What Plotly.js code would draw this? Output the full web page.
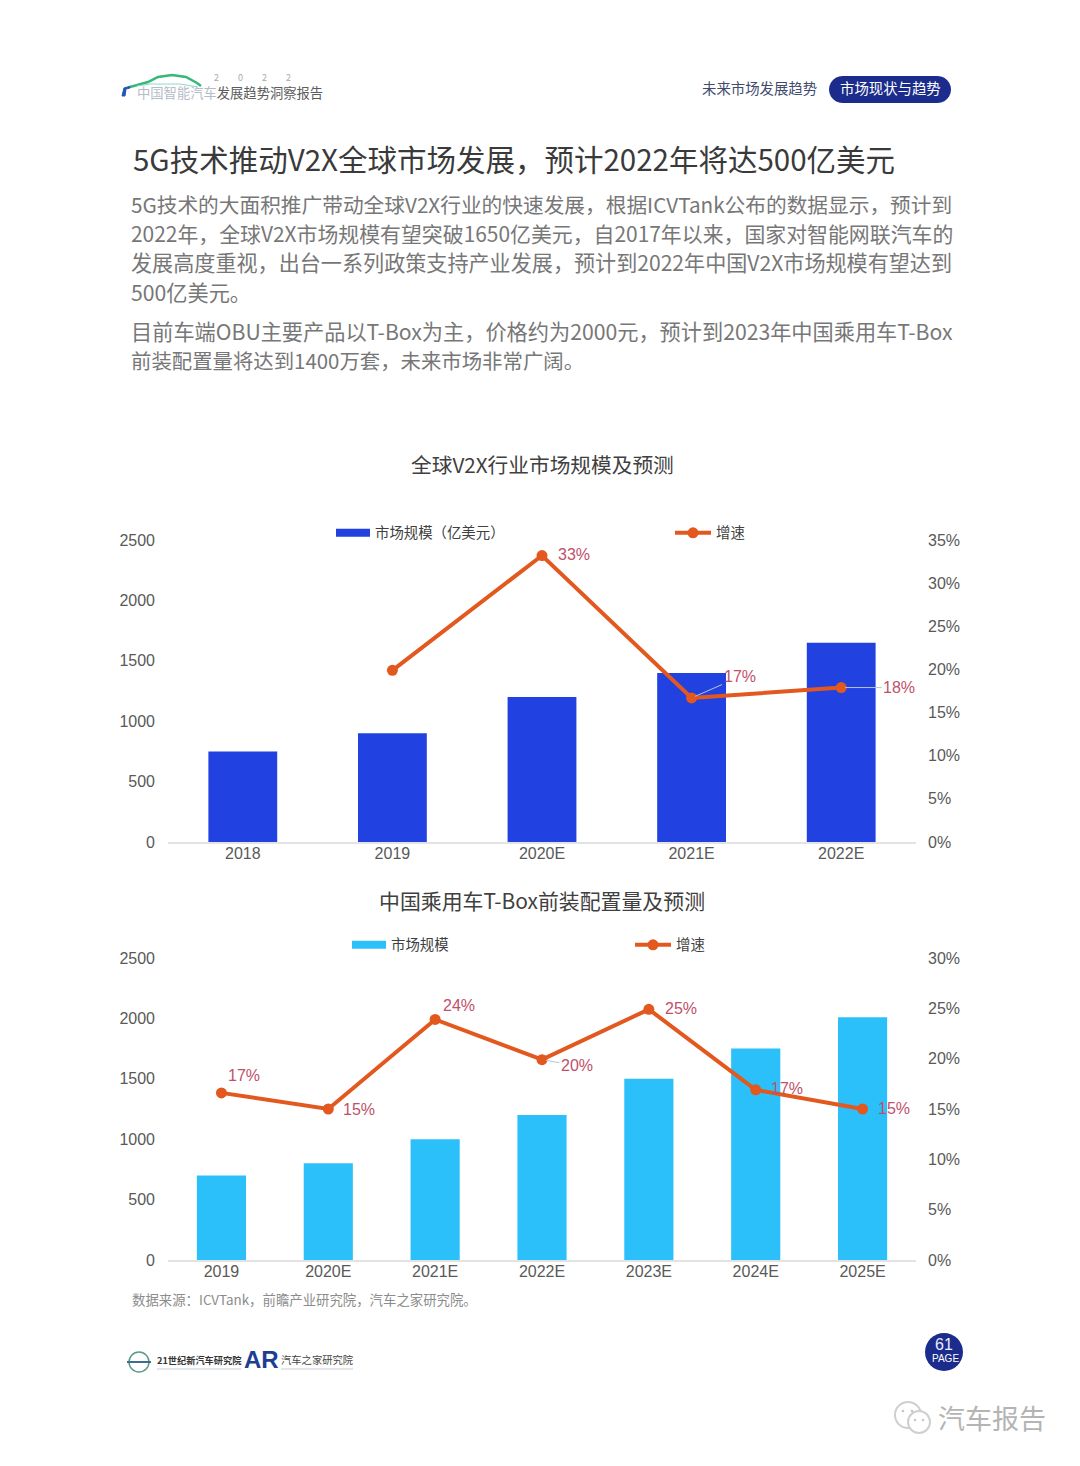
<!DOCTYPE html>
<html><head><meta charset="utf-8">
<script src="https://cdn.plot.ly/plotly-3.0.1.min.js"></script>
<style>html,body{margin:0;padding:0;background:#fff}#c{width:1080px;height:1466px}</style>
</head><body><div id="c"></div>
<script>
// ---------- chart data ----------
const cats1 = ['2018','2019','2020E','2021E','2022E'];
const size1 = [750,900,1200,1400,1650];
const growth1 = [null,19.9,33.2,16.7,17.9];
const growthLabels1 = ['','20%','33%','17%','18%'];
const cats2 = ['2019','2020E','2021E','2022E','2023E','2024E','2025E'];
const size2 = [700,800,1000,1200,1500,1750,2010];
const growth2 = [16.6,15,23.9,19.9,24.9,16.9,15];
const growthLabels2 = ['17%','15%','24%','20%','25%','17%','15%'];
const sizeName1 = '市场规模\uFF08亿美元\uFF09';
const sizeName2 = '市场规模';
const growthName = '增速';
const title1 = '全球V2X行业市场规模及预测';
const title2 = '中国乘用车T-Box前装配置量及预测';
const pageTitle = '5G技术推动V2X全球市场发展\uFF0C预计2022年将达500亿美元';
const bodyLines = [
 '5G技术的大面积推广带动全球V2X行业的快速发展\uFF0C根据ICVTank公布的数据显示\uFF0C预计到',
 '2022年\uFF0C全球V2X市场规模有望突破1650亿美元\uFF0C自2017年以来\uFF0C国家对智能网联汽车的',
 '发展高度重视\uFF0C出台一系列政策支持产业发展\uFF0C预计到2022年中国V2X市场规模有望达到',
 '500亿美元。',
 '目前车端OBU主要产品以T-Box为主\uFF0C价格约为2000元\uFF0C预计到2023年中国乘用车T-Box',
 '前装配置量将达到1400万套\uFF0C未来市场非常广阔。'];
const sourceNote = '数据来源\uFF1AICVTank\uFF0C前瞻产业研究院\uFF0C汽车之家研究院。';

// ---------- helpers ----------
const W=1080,H=1466;
const fx=x=>x/W, fy=y=>1-y/H;
const CJK='"Noto Sans CJK SC","Noto Sans",sans-serif';
const LAT='"Liberation Sans",Arial,sans-serif';
const BLUE='#2141e0',CYAN='#2cc0fb',ORANGE='#e2581e',NAVY='#1c2c8c',LABEL='#c0506a',TICK='#595959';

function txt(x,y,text,size,color,extra){
  const e=extra||{};
  const px=(e.xanchor==='center')?x:x-2;
  return Object.assign({xref:'paper',yref:'paper',x:fx(px),y:fy(y-1),text,showarrow:false,
    xanchor:'left',yanchor:'middle',align:'left',font:{family:CJK,size,color}},e);
}
function path(pts,color,width,fill){
  const d=pts.map((p,i)=>(i?'L':'M')+fx(p[0]).toFixed(5)+','+fy(p[1]).toFixed(5)).join(' ')+(fill?' Z':'');
  return {type:'path',xref:'paper',yref:'paper',path:d,line:{color:color,width:width},fillcolor:fill||'rgba(0,0,0,0)'};
}
function circle(cx,cy,r,fill,line,lw){return {type:'circle',xref:'paper',yref:'paper',x0:fx(cx-r),x1:fx(cx+r),y0:fy(cy+r),y1:fy(cy-r),fillcolor:fill,line:{color:line||fill,width:lw||0}};}
function lab(xr,yr,cat,val,text,dx,dy){
  return {xref:xr,yref:yr,x:cat,y:val,text,showarrow:false,xshift:dx,yshift:dy,font:{family:LAT,size:16,color:LABEL}};
}
function leader(xr,yr,cat,val,text,ax,ay){
  return {xref:xr,yref:yr,x:cat,y:val,text,showarrow:true,arrowhead:0,arrowwidth:1,arrowcolor:'#b9c4dc',ax,ay,standoff:4,font:{family:LAT,size:16,color:LABEL}};
}

// ---------- traces ----------
const barW=0.46;
const traces=[
 {type:'bar',x:cats1,y:size1,name:sizeName1,xaxis:'x',yaxis:'y',width:barW,marker:{color:BLUE},legend:'legend'},
 {type:'scatter',mode:'lines+markers',x:cats1,y:growth1,name:growthName,xaxis:'x',yaxis:'y2',line:{color:ORANGE,width:4},marker:{color:ORANGE,size:11},legend:'legend2'},
 {type:'bar',x:cats2,y:size2,name:sizeName2,xaxis:'x2',yaxis:'y3',width:barW,marker:{color:CYAN},legend:'legend3'},
 {type:'scatter',mode:'lines+markers',x:cats2,y:growth2,name:growthName,xaxis:'x2',yaxis:'y4',line:{color:ORANGE,width:4},marker:{color:ORANGE,size:11},legend:'legend4'}
];

// ---------- axes ----------
const tf={family:LAT,size:16,color:TICK};
const dom=[fx(168),fx(916)];
function xa(anchor,n){return {domain:dom,anchor,type:'category',range:[-0.5,n-0.5],showgrid:false,zeroline:false,showline:true,linecolor:'#e3e3e3',linewidth:2,ticks:'',tickfont:tf,ticklabelstandoff:-4,fixedrange:true};}
function yl(top,bot){return {domain:[fy(bot),fy(top)],range:[0,2500],tick0:0,dtick:500,showgrid:false,zeroline:false,showline:false,ticks:'',tickfont:tf,ticklabelstandoff:12,fixedrange:true};}
function yr(over,anchor,maxv){return {overlaying:over,anchor,side:'right',range:[0,maxv],tick0:0,dtick:5,ticksuffix:'%',showgrid:false,zeroline:false,showline:false,ticks:'',tickfont:tf,ticklabelstandoff:11,fixedrange:true};}

// ---------- page furniture ----------
function pill(x0,x1,y0,y1){
  const r=(y1-y0)/2,pts=[];
  for(let a=90;a<=270;a+=15)pts.push([x0+r+r*Math.cos(a*Math.PI/180),(y0+y1)/2-r*Math.sin(a*Math.PI/180)]);
  for(let a=270;a<=450;a+=15)pts.push([x1-r+r*Math.cos(a*Math.PI/180),(y0+y1)/2-r*Math.sin(a*Math.PI/180)]);
  return path(pts,NAVY,0,NAVY);
}
const shapes=[
 pill(829,951,76,103),
 circle(944,1352,19,NAVY),
 // header car mark
 path([[122,96],[124,88],[131,86],[130,88],[126,89],[125,96]],'#1f56b5',1,'#1f56b5'),
 path([[130,87],[148,82],[158,77],[172,75],[186,77],[197,83],[201,86]],'#36b87a',2.5),
 path([[137,86],[150,84],[180,84],[198,87]],'#8ed8c8',1),
 // footer marks
 circle(139,1362,10,'#ffffff','#5b9a87',1.5),
 path([[127,1362],[151,1362]],'#3a6f8f',2),
 path([[157,1369],[241,1369]],'#c8ccd6',1),
 path([[281,1369],[353,1369]],'#c8ccd6',1),
 // wechat watermark
 circle(908,1415,13,'#ffffff','#cfcfcf',2),
 circle(919,1422,11,'#ffffff','#cfcfcf',2),
 circle(903,1411,1.3,'#c4c4c4'),circle(912,1411,1.3,'#c4c4c4'),
 circle(915,1420,1.2,'#c4c4c4'),circle(923,1420,1.2,'#c4c4c4'),
];

const bodySizes=[20.7,20.9,21.1,21.2,21.2,20.4];
const bodyY=[205,234,263,292,332,361];
const annotations=[
 txt(137,93,'<span style="color:#b4bcc8">中国智能汽车</span><span style="color:#5c5c5c">发展趋势洞察报告</span>',13.3,'#5c5c5c'),
 txt(214,79,'2',9,'#a8a8a8'),txt(238,79,'0',9,'#a8a8a8'),txt(262,79,'2',9,'#a8a8a8'),txt(286,79,'2',9,'#a8a8a8'),
 txt(702,88,'未来市场发展趋势',14.4,'#3f4c6e'),
 txt(890,88,'市场现状与趋势',14.4,'#ffffff',{xanchor:'center'}),
 txt(133,159,pageTitle,29.5,'#3a3a3a'),
 txt(542,465,title1,20.7,'#404040',{xanchor:'center'}),
 txt(542,901,title2,20.9,'#404040',{xanchor:'center'}),
 txt(132,1300,sourceNote,13.4,'#8c8c8c'),
 txt(157,1361,'<b>21世纪新汽车研究院</b>',9.2,'#333333'),
 txt(244,1360,'<b>AR</b>',24,'#1c3f94',{font:{family:LAT,size:24,color:'#1c3f94'}}),
 txt(281,1360,'汽车之家研究院',10.3,'#444444'),
 txt(944,1345,'61',15,'#ffffff',{xanchor:'center',font:{family:LAT,size:16,color:'#e8ecff'}}),
 txt(945,1359,'PAGE',10,'#ffffff',{xanchor:'center',font:{family:LAT,size:10,color:'#ffffff'}}),
 txt(938,1418,'汽车报告',27,'#b4b4b4'),
 // data labels chart 1
 lab('x','y2',cats1[1],growth1[1],growthLabels1[1],32,1),
 lab('x','y2',cats1[2],growth1[2],growthLabels1[2],32,1),
 leader('x','y2',cats1[3],growth1[3],growthLabels1[3],48,-21),
 leader('x','y2',cats1[4],growth1[4],growthLabels1[4],58,0),
 // data labels chart 2
 lab('x2','y4',0,growth2[0],growthLabels2[0],23,17),
 lab('x2','y4',cats2[1],growth2[1],growthLabels2[1],31,0),
 lab('x2','y4',cats2[2],growth2[2],growthLabels2[2],24,14),
 leader('x2','y4',cats2[3],growth2[3],growthLabels2[3],35,6),
 lab('x2','y4',cats2[4],growth2[4],growthLabels2[4],32,1),
 lab('x2','y4',cats2[5],growth2[5],growthLabels2[5],31,1),
 lab('x2','y4',cats2[6],growth2[6],growthLabels2[6],31,1),
];
bodyLines.forEach((t,i)=>annotations.push(txt(131,bodyY[i],t,bodySizes[i],'#777777')));

function leg(x,y,iw){return {x:fx(x),y:fy(y),xanchor:'left',yanchor:'middle',bgcolor:'rgba(0,0,0,0)',font:{family:CJK,size:14.4,color:'#404040'},itemwidth:iw,tracegroupgap:0};}

const layout={
 width:W,height:H,margin:{l:0,r:0,t:0,b:0},paper_bgcolor:'#fff',plot_bgcolor:'rgba(0,0,0,0)',
 barmode:'overlay',showlegend:true,
 xaxis:xa('y',cats1.length),yaxis:yl(540,842),
 yaxis2:yr('y','x',35),
 xaxis2:xa('y3',cats2.length),yaxis3:yl(958,1260),
 yaxis4:yr('y3','x2',30),
 legend:leg(331,533,34),legend2:leg(670,533,36),legend3:leg(347,945,34),legend4:leg(630,945,36),
 shapes,annotations
};
function widenBarSwatches(){
  // legend's bar swatch is a fixed 12px square; reshape to the reference's flat strip
  document.querySelectorAll('g.legendpoints path').forEach(p=>{
    const d=p.getAttribute('d')||'';
    if(/^M6,6H-6V-6H6Z/.test(d)) p.setAttribute('d','M17,4H-17V-4H17Z');
  });
}
Plotly.newPlot('c',traces,layout,{displayModeBar:false}).then(()=>{
  widenBarSwatches();
  setTimeout(widenBarSwatches,50);
  setTimeout(widenBarSwatches,300);
});
</script></body></html>
